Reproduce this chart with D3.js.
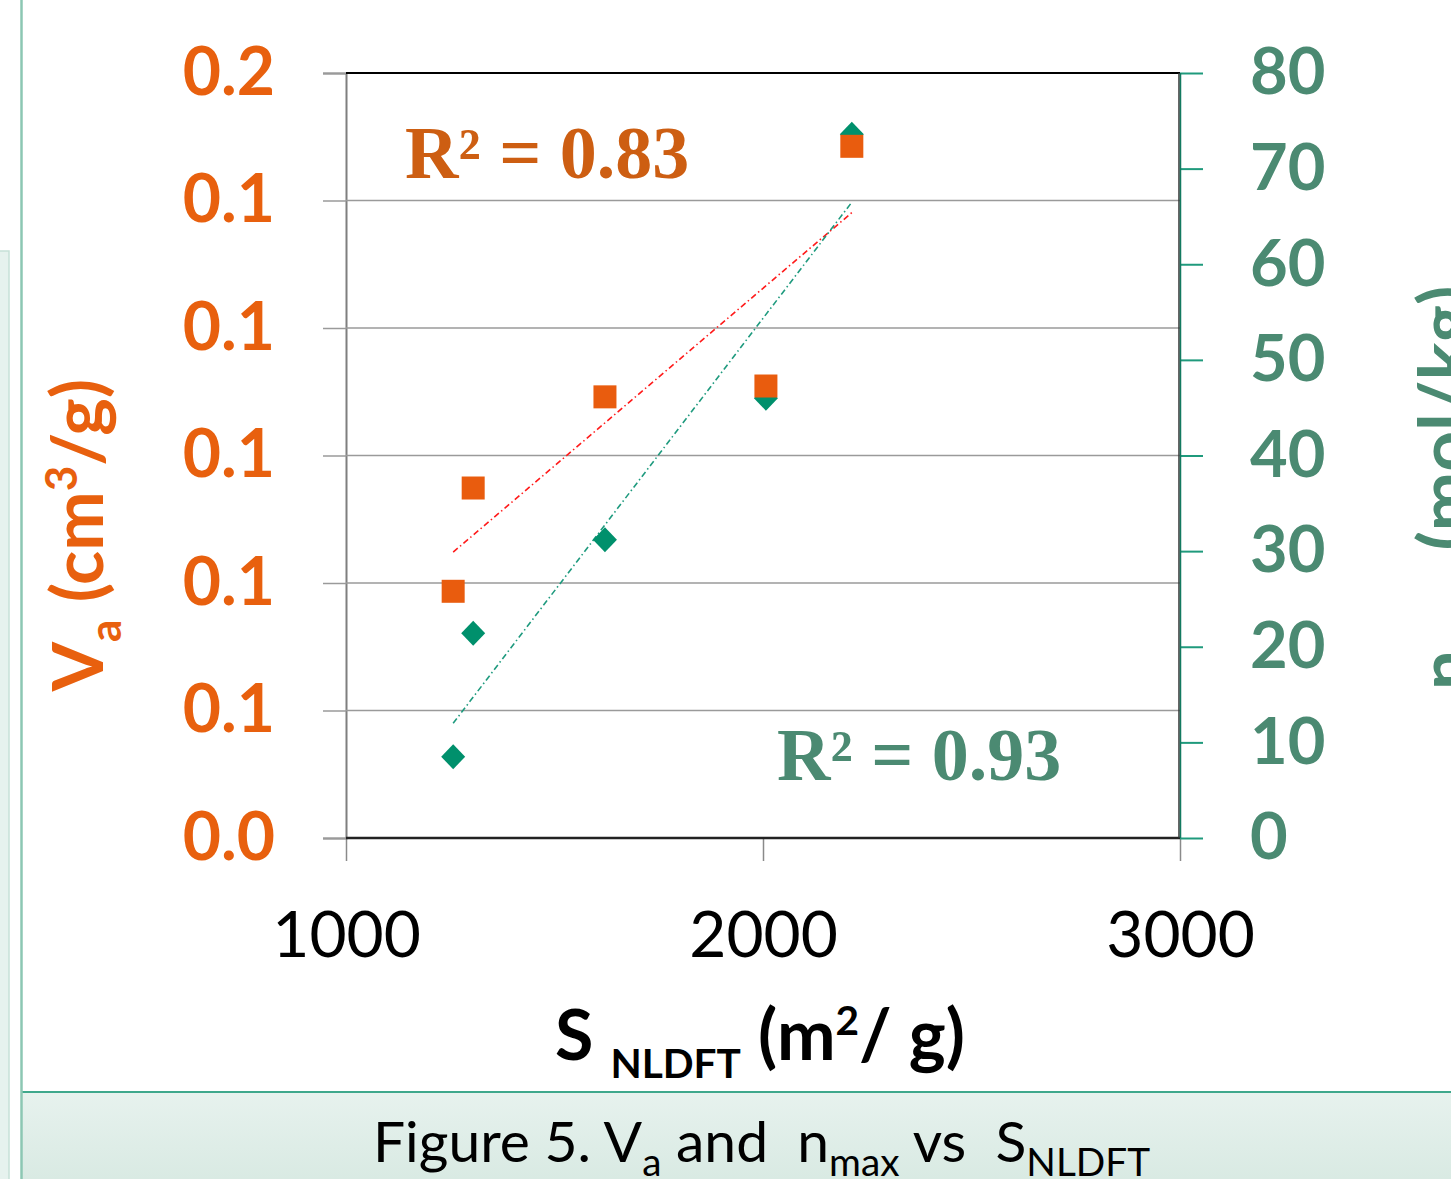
<!DOCTYPE html>
<html><head><meta charset="utf-8">
<script src="https://cdn.jsdelivr.net/npm/d3@7"></script>
<style>body{margin:0;background:#fff;overflow:hidden} text{white-space:pre}</style>
</head><body><svg id="c" width="1451" height="1179" xmlns="http://www.w3.org/2000/svg"></svg>
<script>
// ---- data ----
const surfaceArea = [1257, 1305, 1621, 2007, 2213];          // S NLDFT (m2/g)
const poreVolume  = [0.0787, 0.0949, 0.1092, 0.1109, 0.1485]; // Va (cm3/g)
const nMax        = [8.5, 21.4, 31.2, 46.0, 73.6];            // nmax (mol/kg)
const xTicks      = [1000, 2000, 3000];
const leftTicks   = [0.04, 0.06, 0.08, 0.10, 0.12, 0.14, 0.16];
const rightTicks  = [0, 10, 20, 30, 40, 50, 60, 70, 80];
const r2Labels    = ["R\u00B2 = 0.83", "R\u00B2 = 0.93"];

const svg = d3.select("#c");
const W = 1451, H = 1179;
const L = 346, R = 1180, T = 73, B = 838;

const x  = d3.scaleLinear().domain([1000, 3000]).range([L, R]);
const yL = d3.scaleLinear().domain([0.04, 0.16]).range([B, T]);
const yR = d3.scaleLinear().domain([0, 80]).range([B, T]);

const ORANGE = "#E95C0E", ORANGE_T = "#E8600E", ORANGE_R2 = "#CD5E12";
const GREEN = "#00906C", GREEN_T = "#4B8A72";
const FONT = "Lato, 'Open Sans', sans-serif";

// ---- page decorations ----
svg.append("rect").attr("x", 0).attr("y", 0).attr("width", W).attr("height", H).attr("fill", "#fff");
svg.append("rect").attr("x", -2).attr("y", 251).attr("width", 11).attr("height", 940)
  .attr("fill", "#e6f2ee").attr("stroke", "#c6e1d7").attr("stroke-width", 1.5);
const grad = svg.append("defs").append("linearGradient").attr("id", "cap").attr("x1", 0).attr("x2", 0).attr("y1", 0).attr("y2", 1);
grad.append("stop").attr("offset", 0).attr("stop-color", "#e7f2ee");
grad.append("stop").attr("offset", 1).attr("stop-color", "#d9eae3");
svg.append("rect").attr("x", 22).attr("y", 1092).attr("width", W - 22).attr("height", H - 1092).attr("fill", "url(#cap)");
svg.append("line").attr("x1", 22).attr("x2", W).attr("y1", 1092).attr("y2", 1092).attr("stroke", "#3fa88c").attr("stroke-width", 2);
svg.append("line").attr("x1", 21.5).attr("x2", 21.5).attr("y1", 0).attr("y2", H).attr("stroke", "#8cc7b3").attr("stroke-width", 2.5);

// ---- grid + axes ----
const g = svg.append("g");
const axL = d3.axisLeft(yL).tickValues(leftTicks).tickFormat(d3.format(".1f")).tickSize(23).tickPadding(48);
const gL = g.append("g").attr("transform", `translate(${L},0)`).call(axL);
gL.select(".domain").attr("stroke", "#7f7f7f").attr("stroke-width", 2);
gL.selectAll(".tick line").attr("stroke", "#9a9a9a").attr("stroke-width", 1.5);
gL.selectAll(".tick text").attr("fill", ORANGE_T).attr("font-family", FONT).attr("font-weight", "bold").attr("font-size", 66);
g.append("g").selectAll("line").data(leftTicks.slice(1, -1)).join("line")
  .attr("x1", L).attr("x2", R).attr("y1", d => yL(d)).attr("y2", d => yL(d))
  .attr("stroke", "#9a9a9a").attr("stroke-width", 1.5);

const axB = d3.axisBottom(x).tickValues(xTicks).tickFormat(d3.format("d")).tickSize(23).tickPadding(90);
const gB = g.append("g").attr("transform", `translate(0,${B})`).call(axB);
gB.select(".domain").remove();
gB.selectAll(".tick line").attr("stroke", "#8a8a8a").attr("stroke-width", 1.5);
gB.selectAll(".tick text").attr("fill", "#000").attr("font-family", FONT).attr("font-size", 64).attr("dy", "0.1em");

const axR = d3.axisRight(yR).tickValues(rightTicks).tickSize(23).tickPadding(47);
const gR = g.append("g").attr("transform", `translate(${R},0)`).call(axR);
gR.select(".domain").remove();
gR.selectAll(".tick line").attr("stroke", "#1f9a7c").attr("stroke-width", 2);
gR.selectAll(".tick text").attr("fill", GREEN_T).attr("font-family", FONT).attr("font-weight", "bold").attr("font-size", 65);

// plot frame
g.append("line").attr("x1", L).attr("x2", R).attr("y1", T).attr("y2", T).attr("stroke", "#000").attr("stroke-width", 2);
g.append("line").attr("x1", L).attr("x2", R).attr("y1", B).attr("y2", B).attr("stroke", "#222").attr("stroke-width", 2.5);
g.append("line").attr("x1", R - 1).attr("x2", R - 1).attr("y1", T).attr("y2", B).attr("stroke", "#333").attr("stroke-width", 1.5);
g.append("line").attr("x1", R + 0.5).attr("x2", R + 0.5).attr("y1", T).attr("y2", B).attr("stroke", "#137a60").attr("stroke-width", 1.5);

// ---- trend lines (least squares) ----
function fit(xs, ys) {
  const mx = d3.mean(xs), my = d3.mean(ys);
  let sxy = 0, sxx = 0;
  xs.forEach((v, i) => { sxy += (v - mx) * (ys[i] - my); sxx += (v - mx) ** 2; });
  const b = sxy / sxx, a = my - b * mx;
  return v => a + b * v;
}
const x0 = d3.min(surfaceArea), x1 = d3.max(surfaceArea);
const fVa = fit(surfaceArea, poreVolume), fN = fit(surfaceArea, nMax);
const line = d3.line();
g.append("path").attr("d", line([[x(x0), yL(fVa(x0))], [x(x1), yL(fVa(x1))]]))
  .attr("stroke", "#FF1A1A").attr("stroke-width", 1.6).attr("fill", "none").attr("stroke-dasharray", "6,3,1.5,3");
g.append("path").attr("d", line([[x(x0), yR(fN(x0))], [x(x1), yR(fN(x1))]]))
  .attr("stroke", "#1E9A7E").attr("stroke-width", 1.6).attr("fill", "none").attr("stroke-dasharray", "6,3,1.5,3");

// ---- markers ----
const ptsN = surfaceArea.map((s, i) => [s, nMax[i]]);
const ptsV = surfaceArea.map((s, i) => [s, poreVolume[i]]);
g.append("g").selectAll("path").data(ptsN).join("path")
  .attr("transform", d => `translate(${x(d[0])},${yR(d[1])})`)
  .attr("d", "M0,-12.5L12,0L0,12.5L-12,0Z").attr("fill", GREEN);
g.append("g").selectAll("rect").data(ptsV).join("rect")
  .attr("x", d => x(d[0]) - 11.5).attr("y", d => yL(d[1]) - 11.5)
  .attr("width", 23).attr("height", 23).attr("fill", ORANGE);

// ---- R2 labels ----
g.append("text").attr("x", 405).attr("y", 178).text(r2Labels[0])
  .attr("font-family", "'Liberation Serif', 'Times New Roman', serif").attr("font-weight", "bold")
  .attr("font-size", 74).attr("fill", ORANGE_R2);
g.append("text").attr("x", 777).attr("y", 780).text(r2Labels[1])
  .attr("font-family", "'Liberation Serif', 'Times New Roman', serif").attr("font-weight", "bold")
  .attr("font-size", 74).attr("fill", GREEN_T);

// ---- axis titles ----
function rich(sel, parts, size, subRatio = 0.62) {
  let shift = 0;
  parts.forEach(([t, k]) => {
    const target = k === "sub" ? size * 0.25 : k === "sup" ? -size * 0.36 : 0;
    sel.append("tspan").attr("dy", target - shift).attr("font-size", k === "n" ? size : size * subRatio).text(t);
    shift = target;
  });
}
const yt = svg.append("text").attr("transform", "translate(103,535) rotate(-90)")
  .attr("text-anchor", "middle").attr("font-family", FONT).attr("font-weight", "bold").attr("fill", ORANGE_T);
rich(yt, [["V", "n"], ["a", "sub"], [" (cm", "n"], ["3", "sup"], ["/g)", "n"]], 71);

const yt2 = svg.append("text").attr("transform", "translate(1470,690) rotate(-90)")
  .attr("text-anchor", "start").attr("font-family", FONT).attr("font-weight", "bold").attr("fill", GREEN_T);
rich(yt2, [["n", "n"], ["max", "sub"], [" (mol/kg)", "n"]], 71);

const xt = svg.append("text").attr("x", 555).attr("y", 1060)
  .attr("font-family", FONT).attr("font-weight", "bold").attr("fill", "#000");
rich(xt, [["S ", "n"], ["NLDFT", "sub"], [" (m", "n"], ["2", "sup"], ["/ g)", "n"]], 70, 0.58);

// ---- caption ----
const cap = svg.append("text").attr("x", 373).attr("y", 1162)
  .attr("font-family", FONT).attr("fill", "#000");
rich(cap, [["Figure 5. V", "n"], ["a", "sub"], [" and  n", "n"], ["max", "sub"], [" vs  S", "n"], ["NLDFT", "sub"]], 57, 0.68);
</script></body></html>
